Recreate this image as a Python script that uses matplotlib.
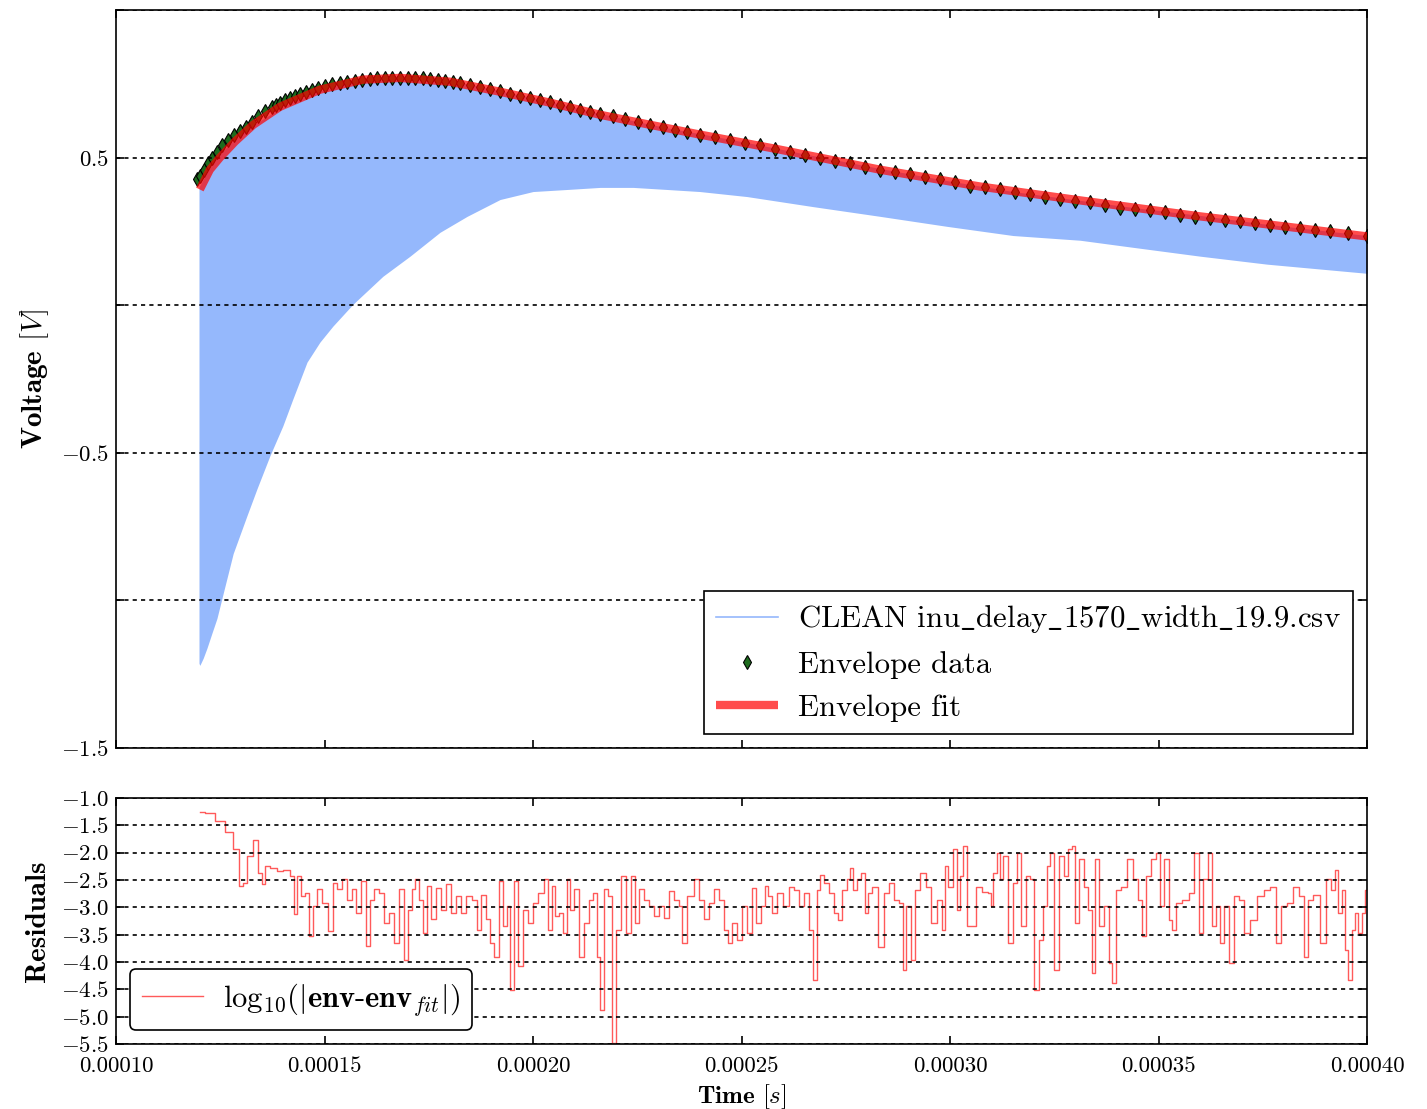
import numpy as np
import matplotlib
matplotlib.use("Agg")
import matplotlib.pyplot as plt

plt.rcParams['font.family'] = ['cmr10', 'DejaVu Serif']
plt.rcParams['mathtext.fontset'] = 'cm'
plt.rcParams['axes.unicode_minus'] = False

# ---- data (time in microseconds, volts) ----
# light blue signal band: upper / lower edge of the oscillation
sig_t = [119.9, 120.1, 120.9, 121.8, 123.0, 124.2, 125.7, 128.1, 131.4, 133.8,
         136.9, 140.0, 142.4, 145.8, 148.9, 152.0, 156.8, 164.0, 170.5, 177.7,
         184.2, 192.1, 200.0, 208.2, 216.1, 224.0, 232.1, 240.0, 251.3, 267.1,
         283.2, 299.3, 315.1, 331.2, 343.9, 360.0, 376.0, 400.0]
sig_top = [0.399, 0.405, 0.426, 0.449, 0.476, 0.500, 0.524, 0.557, 0.595, 0.618,
           0.645, 0.672, 0.689, 0.709, 0.726, 0.740, 0.757, 0.767, 0.770, 0.764,
           0.750, 0.726, 0.703, 0.676, 0.649, 0.625, 0.601, 0.581, 0.551, 0.507,
           0.463, 0.422, 0.385, 0.355, 0.331, 0.304, 0.274, 0.236]
sig_low = [-1.213, -1.220, -1.196, -1.162, -1.111, -1.061, -0.976, -0.841, -0.713, -0.622,
           -0.510, -0.409, -0.318, -0.193, -0.125, -0.071, 0.003, 0.098, 0.166, 0.247,
           0.301, 0.358, 0.385, 0.392, 0.399, 0.399, 0.392, 0.385, 0.368, 0.334,
           0.301, 0.267, 0.236, 0.220, 0.196, 0.166, 0.139, 0.108]

# envelope data (oscillation peaks)
env_t = [119.4, 120.1, 121.1, 122.1, 123.0, 124.2, 125.4, 126.9, 128.3, 129.7,
         131.2, 132.6, 134.1, 135.7, 137.4, 138.3, 139.3, 140.5, 141.7, 142.9,
         144.1, 145.5, 147.0, 148.5, 150.1, 151.9, 153.7, 155.5, 157.3, 159.1,
         160.9, 162.7, 164.5, 166.3, 168.1, 169.9, 171.7, 173.5, 175.3, 177.1,
         178.9, 180.7, 182.5, 184.9, 187.3, 189.7, 192.1, 194.5, 196.9, 199.3,
         201.7, 204.1, 206.5, 208.9, 211.3, 213.7, 216.1, 219.1, 222.1, 225.1,
         228.1, 231.1, 234.1, 237.0, 240.0, 243.6, 247.2, 250.8, 254.4, 258.0,
         261.6, 265.2, 268.8, 272.4, 276.0, 279.6, 283.2, 286.8, 290.4, 294.0,
         297.6, 301.2, 304.8, 308.4, 312.0, 315.6, 319.2, 322.8, 326.4, 330.0,
         333.6, 337.2, 340.8, 344.4, 348.0, 351.6, 355.2, 358.8, 362.4, 366.0,
         369.6, 373.2, 376.7, 380.3, 383.9, 387.5, 391.1, 395.5, 400.0]
env_v = [0.426, 0.439, 0.459, 0.480, 0.500, 0.520, 0.541, 0.561, 0.578, 0.591,
         0.605, 0.622, 0.642, 0.659, 0.672, 0.679, 0.686, 0.695, 0.703, 0.710,
         0.716, 0.723, 0.730, 0.737, 0.743, 0.748, 0.753, 0.757, 0.760, 0.764,
         0.767, 0.769, 0.770, 0.771, 0.770, 0.771, 0.770, 0.769, 0.767, 0.764,
         0.760, 0.757, 0.753, 0.747, 0.740, 0.733, 0.726, 0.717, 0.709, 0.703,
         0.696, 0.688, 0.679, 0.670, 0.662, 0.656, 0.649, 0.640, 0.632, 0.621,
         0.611, 0.603, 0.595, 0.587, 0.578, 0.569, 0.561, 0.551, 0.541, 0.530,
         0.520, 0.510, 0.500, 0.490, 0.480, 0.469, 0.459, 0.451, 0.443, 0.434,
         0.426, 0.417, 0.405, 0.400, 0.392, 0.383, 0.375, 0.368, 0.361, 0.354,
         0.348, 0.341, 0.330, 0.327, 0.321, 0.314, 0.307, 0.300, 0.294, 0.289,
         0.284, 0.277, 0.270, 0.265, 0.260, 0.255, 0.250, 0.243, 0.236]

# envelope fit
fit_t = [120.1, 122.5, 124.9, 128.5, 132.9, 139.3, 148.9, 159.2, 168.1, 180.1,
         192.1, 204.1, 216.1, 228.1, 240.0, 259.2, 283.2, 307.2, 331.2, 343.9,
         359.9, 376.0, 400.0]
fit_v = [0.392, 0.459, 0.500, 0.554, 0.611, 0.672, 0.730, 0.764, 0.770, 0.757,
         0.723, 0.686, 0.645, 0.611, 0.578, 0.527, 0.459, 0.402, 0.355, 0.331,
         0.301, 0.274, 0.233]

# residuals log10(|env - env_fit|)
res_t = [120.2, 122.5, 124.9, 127.3, 128.9, 130.1, 130.9, 132.1, 133.6, 134.5,
         135.3, 136.1, 137.7, 139.3, 140.9, 142.5, 142.9, 143.7, 144.9, 145.7,
         146.9, 147.7, 148.9, 150.1, 151.7, 152.5, 153.7, 154.5, 156.1, 156.9,
         158.1, 159.3, 160.5, 161.3, 162.5, 163.7, 164.9, 166.1, 167.3, 168.5,
         169.6, 170.5, 171.3, 172.1, 173.3, 174.1, 174.9, 176.1, 177.3, 178.5,
         179.7, 180.9, 182.1, 183.3, 184.5, 186.1, 186.9,
         188.1, 189.3, 190.1, 191.1, 192.5, 193.3, 194.1, 194.9, 195.9, 196.9,
         198.1, 199.3, 200.5, 202.1, 203.3, 204.1, 204.9, 205.7, 206.9, 207.7,
         208.5, 209.3, 210.5, 211.7, 212.9, 214.1, 214.9, 215.7, 216.5, 217.3,
         218.5, 219.4, 220.5, 221.9, 222.9, 224.1, 224.9, 226.1, 227.3, 228.5,
         229.7, 230.9, 232.1, 233.3, 234.5, 235.3, 236.1, 237.7, 239.3, 240.5,
         241.7, 242.9, 244.0, 245.2, 246.4, 247.2, 248.4, 249.6, 250.8, 252.0,
         253.0, 254.0, 255.2, 256.0, 256.8,
         257.6, 259.2, 260.8, 262.0, 263.2, 264.4, 265.6, 266.8, 267.6, 268.4,
         269.2, 270.4, 271.6, 272.8, 273.6, 274.8, 275.6, 276.4, 277.2, 278.0,
         279.2, 280.0, 280.8, 282.0, 283.6, 284.8, 286.0, 287.2, 288.4, 288.8,
         290.0, 291.2, 292.0, 293.6, 294.8, 296.0, 297.6,
         298.4, 299.2, 300.0, 301.2, 302.0, 302.8, 303.6, 304.4, 305.6, 306.8,
         308.4, 309.6, 310.0, 310.8, 311.6, 312.4, 313.2, 314.4, 315.6, 316.6,
         317.6, 318.8, 319.6, 320.8, 322.0, 322.8, 323.6, 324.4, 325.6, 326.8,
         328.0, 328.8, 329.6, 330.4, 331.6, 332.8, 333.6, 334.4, 335.2, 336.4,
         337.6, 338.4, 339.3, 340.4, 341.6, 343.2, 344.4, 345.6, 346.4, 347.6,
         348.8, 350.0, 350.8, 352.0, 352.8, 353.6, 354.8, 356.4, 358.0, 359.2,
         360.0, 361.2, 362.4, 363.2, 364.4, 365.2, 366.4, 367.6, 368.8, 370.0,
         371.2, 372.8, 374.4, 376.0, 377.6, 378.8, 380.0, 381.5, 383.1, 384.3,
         385.5, 386.3, 387.9, 389.5, 390.7, 391.9, 392.7, 393.5, 394.3, 395.1,
         395.9, 396.7, 397.5, 398.3, 399.1, 399.8]
res_v = [-1.26, -1.27, -1.42, -1.63, -1.94, -2.61, -2.55, -2.06, -1.76, -2.37,
         -2.58, -2.25, -2.28, -2.34, -2.31, -2.43, -3.13, -2.43, -2.80, -2.73,
         -3.53, -2.98, -2.67, -2.92, -3.44, -2.55, -2.67, -2.49, -2.86, -2.67,
         -3.10, -2.52, -3.71, -2.86, -2.67, -2.73, -3.28, -3.10, -3.65, -2.67,
         -3.96, -3.04, -2.67, -2.49, -2.86, -3.47, -2.61, -3.22, -2.64, -3.04,
         -2.58, -3.10, -2.80, -3.10, -2.80, -2.86, -3.41,
         -2.77, -3.22, -3.65, -3.90, -2.52, -3.35, -2.98, -4.51, -2.52, -4.08,
         -3.04, -3.28, -2.92, -2.73, -2.49, -3.41, -2.61, -3.16, -3.10, -3.47,
         -2.49, -3.04, -2.67, -3.90, -3.28, -2.86, -2.73, -3.90, -4.87, -2.67,
         -2.80, -5.49, -3.41, -2.43, -3.47, -2.43, -3.28, -2.67, -2.86, -2.98,
         -3.16, -2.98, -3.19, -2.70, -2.86, -2.98, -3.65, -2.80, -2.49, -2.86,
         -3.22, -2.92, -2.67, -2.86, -3.41, -3.65, -3.28, -3.59, -2.98, -3.47,
         -2.64, -3.28, -2.98, -2.61, -2.80,
         -3.11, -2.74, -2.98, -2.62, -2.68, -2.98, -2.74, -3.41, -4.33, -2.68,
         -2.40, -2.55, -2.74, -3.11, -3.23, -2.68, -2.49, -2.28, -2.68, -2.49,
         -2.37, -3.11, -2.74, -2.62, -3.72, -2.74, -2.55, -2.86, -2.92, -4.15,
         -2.98, -3.96, -2.68, -2.37, -2.62, -3.29, -2.86,
         -3.41, -2.25, -2.62, -1.94, -3.04, -2.43, -1.88, -3.35, -3.35, -2.62,
         -2.71, -2.74, -2.98, -2.37, -2.00, -2.49, -2.06, -3.66, -2.55, -2.00,
         -3.35, -2.43, -2.49, -4.51, -3.60, -2.98, -2.25, -2.00, -4.15, -2.06,
         -2.43, -1.94, -1.88, -3.29, -2.12, -2.62, -3.04, -4.21, -2.12, -3.35,
         -2.98, -4.02, -4.39, -2.68, -2.62, -2.12, -2.49, -2.86, -3.53, -2.43,
         -2.12, -2.00, -2.98, -2.12, -3.23, -3.41, -2.92, -2.86, -2.74, -2.00,
         -3.47, -2.49, -2.00, -3.35, -2.98, -3.66, -2.98, -4.02, -2.80, -2.86,
         -3.47, -3.23, -2.80, -2.68, -2.62, -3.66, -2.98, -2.92, -2.62, -2.80,
         -3.90, -2.86, -2.77, -3.66, -2.49, -2.68, -2.31, -3.11, -2.68, -3.78,
         -4.33, -3.41, -3.11, -3.47, -3.11, -2.68]

file_label = r'CLEAN inu$\_$delay$\_$1570$\_$width$\_$19.9.csv'
res_label = r'$\mathrm{log}_{10}(|\mathbf{env}$-$\mathbf{env}_{fit}|)$'
xtick_vals = [0.00010, 0.00015, 0.00020, 0.00025, 0.00030, 0.00035, 0.00040]
top_yticks = [-1.5, -1.0, -0.5, 0.0, 0.5, 1.0]
top_ylabels = ['$-1.5$', '', '$-0.5$', '', '$0.5$', '']
bot_yticks = [-5.5, -5.0, -4.5, -4.0, -3.5, -3.0, -2.5, -2.0, -1.5, -1.0]

us = 1e-6
blue = '#95b8fc'

fig = plt.figure(figsize=(14.27, 11.09), dpi=100)
ax1 = fig.add_axes([0.0813, 0.3255, 0.8767, 0.6655])
ax2 = fig.add_axes([0.0813, 0.0586, 0.8767, 0.2218])

# top panel
ax1.fill_between(np.array(sig_t) * us, sig_low, sig_top, color=blue, lw=0, zorder=1)
ax1.plot([], [], color=blue, lw=1.2, label=file_label)
ax1.plot(np.array(env_t) * us, env_v, 'd', color='#1e6b1e', mec='k', mew=0.8,
         ms=7.5, label='Envelope data', zorder=2)
ax1.plot(np.array(fit_t) * us, fit_v, color='red', alpha=0.7, lw=6,
         solid_capstyle='butt', label='Envelope fit', zorder=3)
ax1.set_xlim(0.0001, 0.0004)
ax1.set_ylim(-1.5, 1.0)
ax1.set_xticks(xtick_vals)
ax1.set_xticklabels([])
ax1.set_yticks(top_yticks)
ax1.set_yticklabels(top_ylabels)
ax1.set_ylabel('Voltage $[V]$', family='cmb10', fontsize=21)
ax1.yaxis.set_label_coords(-0.052, 0.5)
leg1 = ax1.legend(loc='lower right', fontsize=22.2, fancybox=False, numpoints=1,
                  framealpha=1, edgecolor='k', borderaxespad=0.45,
                  handletextpad=0.65)
leg1.get_frame().set_linewidth(1.2)

# bottom panel
ax2.plot(np.array(res_t) * us, res_v, color='#ff5a5a', lw=1.0,
         drawstyle='steps-mid', label=res_label)
ax2.set_xlim(0.0001, 0.0004)
ax2.set_ylim(-5.5, -1.0)
ax2.set_xticks(xtick_vals)
ax2.set_xticklabels(['%.5f' % v for v in xtick_vals])
ax2.set_yticks(bot_yticks)
ax2.set_yticklabels(['$%.1f$' % v for v in bot_yticks])
ax2.set_ylabel('Residuals', family='cmb10', fontsize=21)
ax2.yaxis.set_label_coords(-0.052, 0.5)
ax2.set_xlabel('Time $[s]$', family='cmb10', fontsize=18)
ax2.xaxis.set_label_coords(0.5, -0.155)
leg2 = ax2.legend(loc='lower left', fontsize=22, fancybox=True, framealpha=1,
                  edgecolor='k', borderaxespad=0.45, handletextpad=0.65)
leg2.get_frame().set_linewidth(1.2)

for ax in (ax1, ax2):
    ax.grid(axis='y', color='k', linestyle=(0, (2.5, 2.5)), lw=1.2)
    ax.set_axisbelow(False)
    ax.tick_params(direction='in', top=True, right=True, length=6, width=1.2,
                   labelsize=16.5, pad=5)
    for s in ax.spines.values():
        s.set_linewidth(1.2)
ax2.tick_params(axis='x', pad=9)

fig.savefig('out.png', dpi=100)
